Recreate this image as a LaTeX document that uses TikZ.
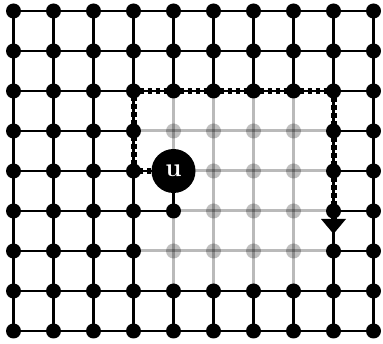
\documentclass[tikz,border=0pt]{standalone}
\usetikzlibrary{arrows.meta,backgrounds}
\begin{document}
\begin{tikzpicture}[x=1pt,y=-1pt,
  dot/.style={circle,fill=black,inner sep=0pt,minimum size=15pt},
  gdot/.style={circle,fill=black,fill opacity=0.25,inner sep=0pt,minimum size=15pt},
  bedge/.style={line width=2.2pt},
  gedge/.style={line width=3pt,draw opacity=0.27},
  route/.style={line width=6pt,dash pattern=on 4.5pt off 3.5pt,-{Triangle[length=15pt,width=24pt]}},
  unode/.style={circle,fill=black,inner sep=0pt,minimum size=44pt,text=white,font=\fontsize{26}{26}\selectfont\bfseries}]
\useasboundingbox (0,0) rectangle (383,344);
% grid nodes
\foreach \i in {0,...,9} {
  \foreach \j in {0,...,8} {
    \pgfmathtruncatemacro\g{(\i>=4)*(\i<=7)*(\j>=3)*(\j<=6)*(1-(\i==4)*((\j==4)+(\j==5)))}
    \ifnum\g=1
      \node[gdot] (n-\i-\j) at ({13.5+40*\i},{11+40*\j}) {};
    \else
      \node[dot] (n-\i-\j) at ({13.5+40*\i},{11+40*\j}) {};
    \fi
  }
}
% edges
\begin{scope}[on background layer]
\foreach \i in {0,...,9} {
  \foreach \j in {0,...,8} {
    \pgfmathtruncatemacro\ga{(\i>=4)*(\i<=7)*(\j>=3)*(\j<=6)*(1-(\i==4)*((\j==4)+(\j==5)))}
    \pgfmathtruncatemacro\ip{\i+1}
    \pgfmathtruncatemacro\jp{\j+1}
    \ifnum\i<9
      \pgfmathtruncatemacro\gb{(\ip>=4)*(\ip<=7)*(\j>=3)*(\j<=6)*(1-(\ip==4)*((\j==4)+(\j==5)))}
      \pgfmathtruncatemacro\gs{\ga+\gb}
      \ifnum\gs>0
        \draw[gedge] (n-\i-\j.center) -- (n-\ip-\j.center);
      \else
        \draw[bedge] (n-\i-\j.center) -- (n-\ip-\j.center);
      \fi
    \fi
    \ifnum\j<8
      \pgfmathtruncatemacro\gc{(\i>=4)*(\i<=7)*(\jp>=3)*(\jp<=6)*(1-(\i==4)*((\jp==4)+(\jp==5)))}
      \pgfmathtruncatemacro\gt{\ga+\gc}
      \ifnum\gt>0
        \draw[gedge] (n-\i-\j.center) -- (n-\i-\jp.center);
      \else
        \draw[bedge] (n-\i-\j.center) -- (n-\i-\jp.center);
      \fi
    \fi
  }
}
\end{scope}
% the node u
\node[unode] (u) at (n-4-4) {u};
% route
\coordinate (tip) at (333.5,234);
\draw[route] (u.west) -- (n-3-4.center) -- (n-3-2.center) -- (n-8-2.center) -- (tip);
\end{tikzpicture}
\end{document}
